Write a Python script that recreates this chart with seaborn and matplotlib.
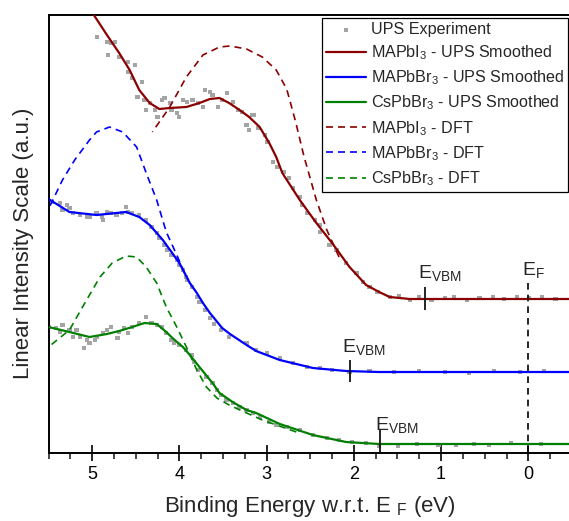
import numpy as np
import pandas as pd
import matplotlib
matplotlib.use("Agg")
import matplotlib.pyplot as plt
from matplotlib.ticker import MultipleLocator
import seaborn as sns

# ---------------- data (binding energy in eV, intensity in a.u.) ----------------
# UPS smoothed curves
mapbi3_smooth_E = [5.09, 4.98, 4.83, 4.69, 4.57, 4.46, 4.34, 4.23, 4.11, 3.92, 3.77, 3.65, 3.54, 3.43,
                   3.31, 3.20, 3.08, 2.97, 2.89, 2.82, 2.62, 2.43, 2.25, 2.05, 1.86, 1.71, 1.59, 1.36,
                   1.0, 0.5, 0.0, -0.5]
mapbi3_smooth_y = [4.63, 4.38, 4.18, 4.00, 3.83, 3.63, 3.50, 3.44, 3.45, 3.46, 3.50, 3.54, 3.55, 3.50,
                   3.43, 3.36, 3.26, 3.10, 2.96, 2.80, 2.53, 2.30, 2.10, 1.86, 1.68, 1.61, 1.56, 1.54,
                   1.54, 1.54, 1.54, 1.54]

mapbbr3_smooth_E = [5.50, 5.26, 4.95, 4.61, 4.46, 4.34, 4.19, 4.00, 3.88, 3.80, 3.73, 3.65, 3.51, 3.42,
                    3.23, 3.12, 2.85, 2.47, 2.09, 1.71, 1.0, 0.0, -0.5]
mapbbr3_smooth_y = [2.54, 2.41, 2.38, 2.41, 2.36, 2.28, 2.13, 1.90, 1.70, 1.60, 1.50, 1.40, 1.25, 1.19,
                    1.08, 1.02, 0.93, 0.85, 0.82, 0.81, 0.81, 0.81, 0.81]

cspbbr3_smooth_E = [5.50, 5.26, 5.03, 4.83, 4.69, 4.54, 4.40, 4.26, 4.15, 4.08, 3.96, 3.88, 3.77, 3.62,
                    3.54, 3.39, 3.23, 3.12, 2.85, 2.47, 2.09, 1.71, 1.0, 0.0, -0.5]
cspbbr3_smooth_y = [1.26, 1.21, 1.16, 1.19, 1.22, 1.26, 1.30, 1.29, 1.21, 1.15, 1.06, 0.98, 0.86, 0.70,
                    0.60, 0.51, 0.43, 0.40, 0.29, 0.18, 0.11, 0.09, 0.09, 0.09, 0.09]

# DFT curves
mapbi3_dft_E = [4.31, 4.11, 3.92, 3.73, 3.54, 3.42, 3.23, 3.05, 2.89, 2.77, 2.67, 2.57, 2.43, 2.31, 2.17]
mapbi3_dft_y = [3.21, 3.46, 3.76, 3.98, 4.06, 4.07, 4.04, 3.96, 3.83, 3.64, 3.32, 2.96, 2.53, 2.23, 1.96]

mapbbr3_dft_E = [5.50, 5.34, 5.20, 5.03, 4.95, 4.80, 4.65, 4.49, 4.38, 4.26, 4.15, 4.03, 3.94]
mapbbr3_dft_y = [2.44, 2.73, 2.93, 3.13, 3.21, 3.26, 3.21, 3.06, 2.80, 2.53, 2.21, 1.98, 1.80]

cspbbr3_dft_E = [5.50, 5.26, 5.11, 4.91, 4.77, 4.61, 4.49, 4.38, 4.26, 4.15, 4.03, 3.92, 3.80, 3.69,
                 3.57, 3.43, 3.28, 3.05, 2.66]
cspbbr3_dft_y = [1.06, 1.23, 1.46, 1.76, 1.90, 1.97, 1.96, 1.86, 1.70, 1.46, 1.26, 1.06, 0.83, 0.66,
                 0.55, 0.48, 0.42, 0.33, 0.21]

# UPS experiment raw points
mapbi3_exp_E = [4.94, 4.83, 4.78, 4.74, 4.82, 4.69, 4.59, 4.51, 4.59, 4.54, 4.43, 4.48, 4.40, 4.34,
                4.38, 4.28, 4.25, 4.20, 4.17, 4.11, 4.09, 4.03, 4.00, 3.96, 3.91, 3.85, 3.79, 3.73,
                3.71, 3.65, 3.62, 3.56, 3.51, 3.45, 3.39, 3.33, 3.28, 3.23, 3.17, 3.14, 3.20, 3.10,
                3.02, 2.99, 2.93, 2.88, 2.80, 2.74, 2.70, 2.62, 2.59, 2.54, 2.45, 2.39, 2.39, 2.28,
                2.20, 2.09, 1.97, 1.90, 1.82, 1.73, 1.59, 1.48, 1.36, 1.25, 1.11, 0.96, 0.85, 0.70,
                0.56, 0.41, 0.28, 0.13, -0.01, -0.16, -0.31]
mapbi3_exp_y = [4.16, 4.11, 4.10, 4.11, 3.98, 3.96, 3.91, 3.88, 3.81, 3.75, 3.71, 3.56, 3.53, 3.50,
                3.43, 3.43, 3.36, 3.53, 3.55, 3.50, 3.43, 3.40, 3.36, 3.53, 3.51, 3.53, 3.50, 3.46,
                3.63, 3.61, 3.58, 3.46, 3.53, 3.60, 3.51, 3.43, 3.41, 3.28, 3.38, 3.38, 3.23, 3.25,
                3.18, 3.11, 2.91, 2.86, 2.81, 2.75, 2.65, 2.56, 2.48, 2.40, 2.33, 2.28, 2.21, 2.08,
                2.03, 1.90, 1.80, 1.71, 1.66, 1.61, 1.56, 1.57, 1.53, 1.56, 1.53, 1.55, 1.56, 1.53,
                1.55, 1.56, 1.54, 1.56, 1.55, 1.56, 1.54]

mapbbr3_exp_E = [5.46, 5.37, 5.34, 5.29, 5.26, 5.22, 5.14, 5.06, 5.03, 4.95, 4.89, 4.88, 4.83, 4.78,
                 4.72, 4.66, 4.61, 4.59, 4.54, 4.46, 4.38, 4.32, 4.26, 4.23, 4.17, 4.14, 4.09, 4.03,
                 4.00, 3.96, 3.92, 3.91, 3.86, 3.80, 3.77, 3.71, 3.65, 3.60, 3.52, 3.43, 3.23, 3.12,
                 3.00, 2.85, 2.70, 2.54, 2.39, 2.25, 2.05, 1.82, 1.54, 1.25, 0.96, 0.68, 0.39, 0.10,
                 -0.18]
mapbbr3_exp_y = [2.51, 2.50, 2.43, 2.48, 2.45, 2.40, 2.38, 2.36, 2.36, 2.40, 2.36, 2.33, 2.41, 2.40,
                 2.38, 2.40, 2.46, 2.41, 2.40, 2.38, 2.33, 2.26, 2.20, 2.15, 2.08, 2.03, 1.98, 1.93,
                 1.88, 1.83, 1.76, 1.73, 1.66, 1.56, 1.51, 1.43, 1.35, 1.29, 1.23, 1.16, 1.10, 1.03,
                 1.00, 0.95, 0.90, 0.86, 0.85, 0.83, 0.81, 0.82, 0.81, 0.82, 0.81, 0.80, 0.82, 0.81,
                 0.82]

cspbbr3_exp_E = [5.49, 5.41, 5.34, 5.37, 5.26, 5.22, 5.18, 5.14, 5.06, 5.09, 5.03, 4.97, 4.94, 4.88,
                 4.83, 4.78, 4.71, 4.69, 4.63, 4.59, 4.54, 4.46, 4.38, 4.32, 4.26, 4.20, 4.15, 4.09,
                 4.06, 4.00, 3.92, 3.86, 3.83, 3.79, 3.69, 3.62, 3.57, 3.52, 3.46, 3.39, 3.31, 3.23,
                 3.16, 3.08, 2.97, 2.89, 2.77, 2.62, 2.47, 2.31, 2.17, 2.02, 1.86, 1.71, 1.49, 1.28,
                 1.03, 0.83, 0.62, 0.45, 0.20, -0.14]
cspbbr3_exp_y = [1.26, 1.25, 1.28, 1.21, 1.23, 1.16, 1.23, 1.16, 1.13, 1.05, 1.10, 1.13, 1.16, 1.20,
                 1.23, 1.26, 1.15, 1.21, 1.25, 1.20, 1.26, 1.30, 1.36, 1.30, 1.28, 1.26, 1.20, 1.13,
                 1.10, 1.08, 1.03, 0.98, 0.91, 0.83, 0.76, 0.70, 0.63, 0.58, 0.53, 0.50, 0.46, 0.43,
                 0.40, 0.36, 0.31, 0.28, 0.26, 0.23, 0.18, 0.15, 0.13, 0.11, 0.10, 0.07, 0.07, 0.09,
                 0.08, 0.08, 0.09, 0.08, 0.10, 0.09]

# energy markers
evbm_E = [1.18, 2.05, 1.70]          # MAPbI3, MAPbBr3, CsPbBr3
evbm_ymin = [1.43, 0.71, 0.0]
evbm_ymax = [1.66, 0.93, 0.24]
evbm_label_x = [1.27, 2.14, 1.76]
evbm_label_y = [1.75, 1.01, 0.23]
ef_E = 0.0
ef_ymax = 1.70

# ---------------- styling ----------------
sns.set_theme(style="ticks")
plt.rcParams["font.family"] = ["Liberation Sans", "DejaVu Sans"]
plt.rcParams["mathtext.fontset"] = "custom"
plt.rcParams["mathtext.rm"] = "Liberation Sans"
plt.rcParams["mathtext.it"] = "Liberation Sans:italic"
plt.rcParams["mathtext.bf"] = "Liberation Sans:bold"

RED = "#8b0000"
BLUE = "#0000ff"
GREEN = "#008000"
GRAY = "#a4a4a4"

fig = plt.figure(figsize=(5.69, 5.21), dpi=100)
ax = fig.add_axes([48.5 / 569, (521 - 453) / 521, (572 - 48.5) / 569, (453 - 15) / 521])

exp = pd.DataFrame({
    "E": mapbi3_exp_E + mapbbr3_exp_E + cspbbr3_exp_E,
    "y": mapbi3_exp_y + mapbbr3_exp_y + cspbbr3_exp_y,
})
sns.scatterplot(data=exp, x="E", y="y", ax=ax, marker="s", s=9, color=GRAY,
                edgecolor="none", linewidth=0, label="UPS Experiment", zorder=1)

solid_lw = 1.6
dash_lw = 1.2
dashes = (4.2, 3.0)

sns.lineplot(x=mapbi3_smooth_E, y=mapbi3_smooth_y, ax=ax, color=RED, lw=solid_lw,
             label=r"MAPbI$_3$ - UPS Smoothed", zorder=3)
sns.lineplot(x=mapbbr3_smooth_E, y=mapbbr3_smooth_y, ax=ax, color=BLUE, lw=solid_lw,
             label=r"MAPbBr$_3$ - UPS Smoothed", zorder=3)
sns.lineplot(x=cspbbr3_smooth_E, y=cspbbr3_smooth_y, ax=ax, color=GREEN, lw=solid_lw,
             label=r"CsPbBr$_3$ - UPS Smoothed", zorder=3)
sns.lineplot(x=mapbi3_dft_E, y=mapbi3_dft_y, ax=ax, color=RED, lw=dash_lw,
             label=r"MAPbI$_3$ - DFT", zorder=2)
sns.lineplot(x=mapbbr3_dft_E, y=mapbbr3_dft_y, ax=ax, color=BLUE, lw=dash_lw,
             label=r"MAPbBr$_3$ - DFT", zorder=2)
sns.lineplot(x=cspbbr3_dft_E, y=cspbbr3_dft_y, ax=ax, color=GREEN, lw=dash_lw,
             label=r"CsPbBr$_3$ - DFT", zorder=2)
for ln in ax.get_lines()[3:6]:
    ln.set_dashes(dashes)

# E_VBM markers and labels
ax.vlines(evbm_E, evbm_ymin, evbm_ymax, color="black", lw=1.2, zorder=4)
for lx, ly in zip(evbm_label_x, evbm_label_y):
    ax.text(lx, ly, r"E$_{\mathrm{VBM}}$", fontsize=14, ha="left", va="baseline", zorder=5)

# Fermi level
ax.vlines([ef_E], 0, ef_ymax, color="black", lw=1.2, linestyles=(0, (4, 3)), zorder=4)
ax.text(0.07, 1.78, r"E$_{\mathrm{F}}$", fontsize=14, ha="left", va="baseline", zorder=5)

# axes
ax.set_xlim(5.5, -0.5)
ax.set_ylim(0, 4.38)
ax.xaxis.set_major_locator(MultipleLocator(1))
ax.xaxis.set_minor_locator(MultipleLocator(0.25))
ax.set_yticks([])
ax.tick_params(axis="x", which="major", direction="inout", length=11, width=1.2,
               labelsize=13, pad=4, colors="black")
ax.tick_params(axis="x", which="minor", direction="out", length=4, width=1.2)
for sp in ax.spines.values():
    sp.set_linewidth(1.4)
    sp.set_color("black")
ax.set_xlabel(r"Binding Energy w.r.t. E $_{\mathrm{F}}$ (eV)", fontsize=16, labelpad=8)
ax.set_ylabel("Linear Intensity Scale (a.u.)", fontsize=16)
ax.yaxis.set_label_coords(-0.028, 0.479)

handles, labels = ax.get_legend_handles_labels()
leg = ax.legend(handles, labels, loc="upper right", bbox_to_anchor=(0.9924, 0.9932),
                borderaxespad=0, fontsize=11.6, frameon=True, fancybox=False,
                edgecolor="black", framealpha=1, handlelength=2.5, handletextpad=0.3,
                borderpad=0.25, labelspacing=0.4, markerscale=1.0)
leg.get_frame().set_linewidth(0.9)

fig.savefig("out.png", dpi=100)
